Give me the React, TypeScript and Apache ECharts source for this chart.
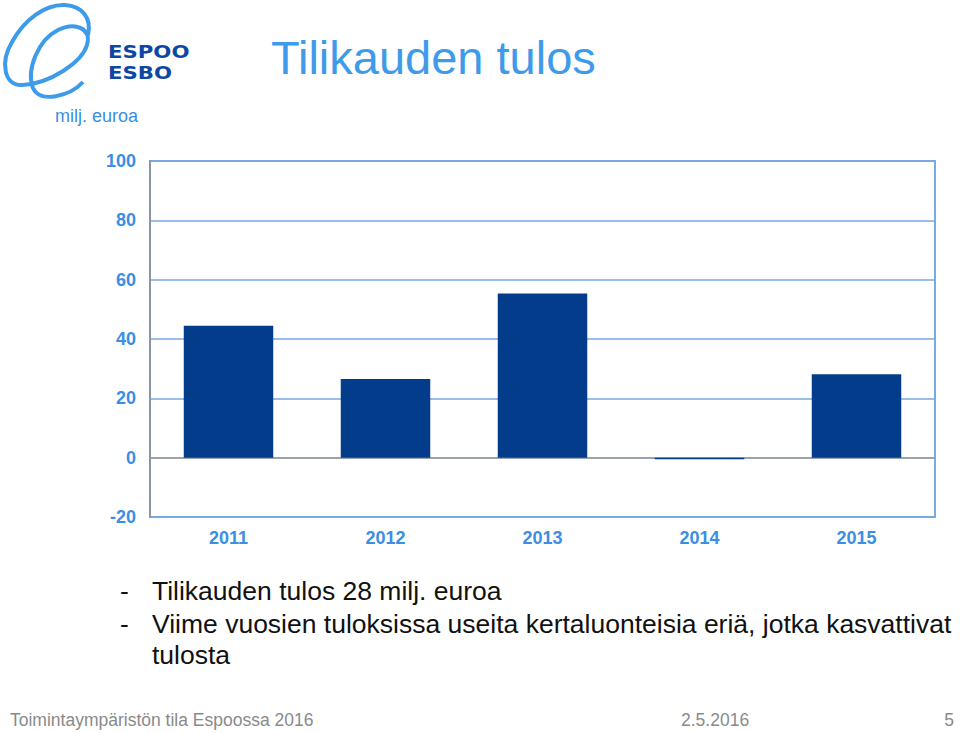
import React, { useEffect, useRef } from "react";
import * as echarts from "echarts";

const years = ["2011", "2012", "2013", "2014", "2015"];
const results = [44.5, 26.5, 55.3, -0.5, 28.1];
const yMin = -20;
const yMax = 100;
const yStep = 20;
const titleText = "Tilikauden tulos";
const unitText = "milj. euroa";
const logoLines = ["ESPOO", "ESBO"];
const bullets = [
  "Tilikauden tulos 28 milj. euroa",
  "Viime vuosien tuloksissa useita kertaluonteisia eriä, jotka kasvattivat",
];
const bulletCont = "tulosta";
const footerLeft = "Toimintaympäristön tila Espoossa 2016";
const footerDate = "2.5.2016";
const footerPage = "5";

const swirl =
  "M 83 82 C 70 96 40 104 33 88 C 26 70 38 40 58 30 C 75 22 92 28 87 45 C 82 62 50 84 22 85 C 4 86 0 62 12 42 C 24 20 45 4 65 5 C 82 6 92 18 88 35";

echarts.graphic.registerShape(
  "espooSwirl",
  echarts.graphic.extendPath(swirl, {})
);

const FONT = "'Liberation Sans', Arial, Helvetica, sans-serif";
const LOGO_FONT = "'DejaVu Sans', 'Liberation Sans', sans-serif";

export default function App() {
  const ref = useRef<HTMLDivElement>(null);
  useEffect(() => {
    if (!ref.current) return;
    const chart = echarts.init(ref.current, null, { renderer: "svg" });
    chart.setOption({
      animation: false,
      grid: {
        left: 150,
        right: 25,
        top: 161,
        bottom: 216,
        show: true,
        borderColor: "#79a9e6",
        borderWidth: 2,
        backgroundColor: "transparent",
      },
      xAxis: {
        type: "category",
        data: years,
        axisLine: { show: false },
        axisTick: { show: false },
        axisLabel: {
          color: "#3a8ee6",
          fontSize: 18,
          fontWeight: "bold",
          fontFamily: FONT,
          margin: 12,
        },
      },
      yAxis: {
        type: "value",
        min: yMin,
        max: yMax,
        interval: yStep,
        axisLine: { show: true, lineStyle: { color: "#8b95a5", width: 2 } },
        axisTick: { show: false },
        axisLabel: {
          color: "#3a8ee6",
          fontSize: 18,
          fontWeight: "bold",
          fontFamily: FONT,
          margin: 14,
        },
        splitLine: { lineStyle: { color: "#79a9e6", width: 1.5 } },
      },
      series: [
        {
          type: "bar",
          data: results,
          barWidth: "57%",
          itemStyle: { color: "#023c8a" },
          markLine: {
            silent: true,
            symbol: "none",
            label: { show: false },
            lineStyle: { color: "#9a9a9a", width: 1.5, type: "solid" },
            data: [{ yAxis: 0 }],
            z: 1,
          },
        },
      ],
      graphic: [
        {
          type: "espooSwirl",
          x: 0,
          y: 0,
          scaleX: 1,
          scaleY: 1,
          style: { fill: null, stroke: "#3d9be9", lineWidth: 4 },
        },
        {
          type: "text",
          x: 108,
          y: 43,
          scaleX: 1.18,
          style: {
            text: logoLines[0],
            fill: "#0b47a4",
            font: "bold 18px " + LOGO_FONT,
            lineHeight: 18,
          },
        },
        {
          type: "text",
          x: 108,
          y: 64,
          scaleX: 1.18,
          style: {
            text: logoLines[1],
            fill: "#0b47a4",
            font: "bold 18px " + LOGO_FONT,
            lineHeight: 18,
          },
        },
        {
          type: "text",
          left: 55,
          top: 107,
          style: { text: unitText, fill: "#3a8ee6", font: "18px " + FONT },
        },
        {
          type: "text",
          left: 271,
          top: 34,
          style: { text: titleText, fill: "#3d9be9", font: "47px " + FONT },
        },
        {
          type: "text",
          left: 120,
          top: 577,
          style: { text: "-", fill: "#111", font: "26.5px " + FONT },
        },
        {
          type: "text",
          left: 152,
          top: 577,
          style: { text: bullets[0], fill: "#111", font: "26.5px " + FONT },
        },
        {
          type: "text",
          left: 120,
          top: 610,
          style: { text: "-", fill: "#111", font: "26.5px " + FONT },
        },
        {
          type: "text",
          left: 152,
          top: 610,
          style: { text: bullets[1], fill: "#111", font: "26.5px " + FONT },
        },
        {
          type: "text",
          left: 152,
          top: 641,
          style: { text: bulletCont, fill: "#111", font: "26.5px " + FONT },
        },
        {
          type: "text",
          left: 10,
          top: 711,
          style: { text: footerLeft, fill: "#8a8a8a", font: "17.5px " + FONT },
        },
        {
          type: "text",
          left: 681,
          top: 711,
          style: { text: footerDate, fill: "#8a8a8a", font: "17.5px " + FONT },
        },
        {
          type: "text",
          right: 6,
          top: 711,
          style: { text: footerPage, fill: "#8a8a8a", font: "17.5px " + FONT },
        },
      ],
    });
    return () => chart.dispose();
  }, []);
  return (
    <div
      ref={ref}
      style={{
        position: "fixed",
        left: 0,
        top: 0,
        width: 960,
        height: 733,
        background: "#fff",
      }}
    />
  );
}
